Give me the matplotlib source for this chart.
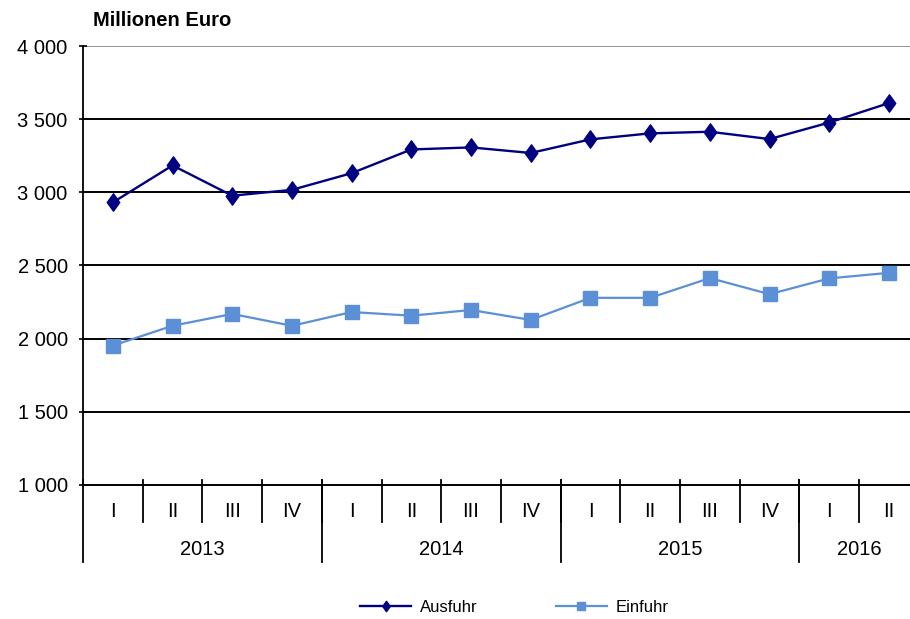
import matplotlib
matplotlib.use('Agg')
import matplotlib.pyplot as plt
from matplotlib.path import Path

plt.rcParams['font.family'] = ['Liberation Sans', 'DejaVu Sans']

# data (Millionen Euro)
quarters = ['I', 'II', 'III', 'IV', 'I', 'II', 'III', 'IV',
            'I', 'II', 'III', 'IV', 'I', 'II']
years = ['2013', '2014', '2015', '2016']
year_len = [4, 4, 4, 2]
ausfuhr = [2931, 3184, 2977, 3017, 3131, 3293, 3307, 3269,
           3362, 3403, 3414, 3364, 3477, 3610]
einfuhr = [1953, 2088, 2169, 2088, 2182, 2157, 2196, 2128,
           2279, 2279, 2414, 2304, 2412, 2450]
yticks = [1000, 1500, 2000, 2500, 3000, 3500, 4000]

# slightly wide diamond like the original
diamond = Path([(0, 1), (0.72, 0), (0, -1), (-0.72, 0), (0, 1)],
               [Path.MOVETO, Path.LINETO, Path.LINETO, Path.LINETO, Path.CLOSEPOLY])

W, H = 910, 619
fig = plt.figure(figsize=(W / 100, H / 100), dpi=100)
# category width ~59.7 px, plot area is cut off at the right edge
ax = fig.add_axes([83 / W, 1 - 485 / H, 14 * 59.7 / W, 439 / H])

x = list(range(len(quarters)))
ax.plot(x, ausfuhr, color='#000080', lw=1.7, marker=diamond, ms=12.5,
        label='Ausfuhr', zorder=4, clip_on=False)
ax.plot(x, einfuhr, color='#5b8fd6', lw=1.6, marker='s', ms=9.5,
        label='Einfuhr', zorder=3, clip_on=False)

ax.set_xlim(-0.5, len(quarters) - 0.5)
ax.set_ylim(1000, 4000)
ax.set_yticks(yticks)
ax.set_yticklabels([f'{v:,}'.replace(',', ' ') for v in yticks], fontsize=14.5)
ax.tick_params(axis='y', direction='inout', length=6, width=1.2, pad=8)
ax.set_xticks([])

for v in yticks[1:]:
    ax.axhline(v, color='#909090' if v == 4000 else 'black', lw=1.4, zorder=1)

for s in ['top', 'right', 'bottom']:
    ax.spines[s].set_visible(False)
ax.spines['left'].set_linewidth(1.3)
ax.spines['left'].set_zorder(2)
ax.axhline(1000, color='black', lw=1.4, zorder=2, clip_on=False)

# category axis with quarter and year groups
trans = ax.get_xaxis_transform()
for i, q in enumerate(quarters):
    ax.text(i, -0.061, q, transform=trans, ha='center', va='center', fontsize=14.5)
    if i > 0:
        ax.plot([i - 0.5, i - 0.5], [0.011, -0.084], transform=trans,
                color='black', lw=1.3, clip_on=False)

start = 0
for yr, n in zip(years, year_len):
    ax.plot([start - 0.5, start - 0.5], [0.011, -0.1755], transform=trans,
            color='black', lw=1.3, clip_on=False)
    ax.text(start + n / 2 - 0.5, -0.148, yr, transform=trans,
            ha='center', va='center', fontsize=14.5)
    start += n

fig.text(93 / W, 1 - 20 / H, 'Millionen Euro', fontsize=14.5,
         fontweight='bold', ha='left', va='center')

fig.legend(loc='center', bbox_to_anchor=(0.565, 1 - 607 / H), ncol=2,
           frameon=False, fontsize=12, markerscale=0.6, handlelength=3.1,
           columnspacing=4.7, handletextpad=0.5)

plt.savefig('out.png', dpi=100)
